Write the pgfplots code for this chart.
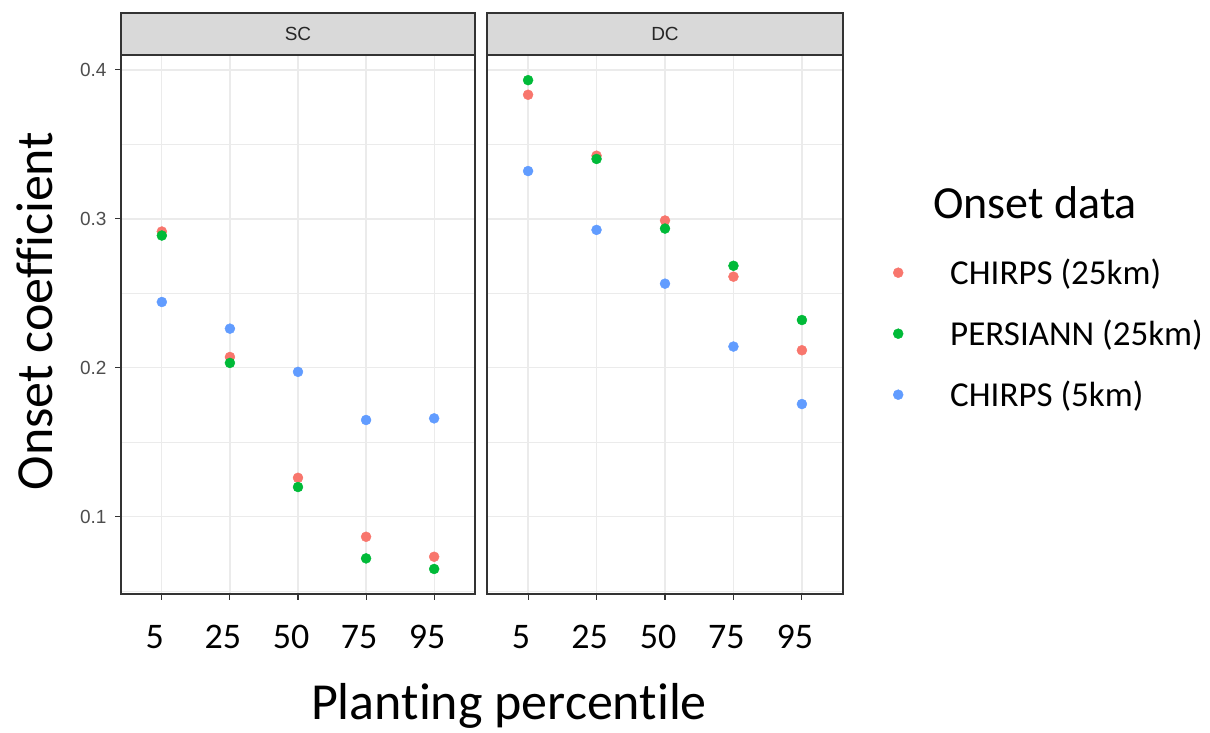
\documentclass[border=0pt]{standalone}
\usepackage{fontspec}
\setmainfont{Carlito}[Ligatures=NoCommon]
\newfontfamily\arial{Liberation Sans}
\usepackage{pgfplots}
\usepackage{pgfplotstable}
\pgfplotsset{compat=1.18}
\definecolor{cR}{HTML}{F8766D}
\definecolor{cG}{HTML}{00BA38}
\definecolor{cB}{HTML}{619CFF}
\definecolor{gridc}{HTML}{EBEBEB}
\definecolor{frame}{HTML}{333333}
\definecolor{stripc}{HTML}{D9D9D9}
\definecolor{ylab}{HTML}{4D4D4D}

\pgfplotstableread{
x r g b
1 0.2915 0.2888 0.2442
2 0.2073 0.2033 0.2263
3 0.1262 0.1200 0.1973
4 0.0866 0.0721 0.1650
5 0.0732 0.0650 0.1661
}\sctab
\pgfplotstableread{
x r g b
1 0.3833 0.3931 0.3321
2 0.3424 0.3402 0.2926
3 0.2989 0.2935 0.2565
4 0.2612 0.2685 0.2143
5 0.2118 0.2321 0.1757
}\dctab

\pgfplotsset{
  panel/.style={
    scale only axis, height=539pt,
    ymin=0.0482, ymax=0.41, xmin=0.4, xmax=5.6,
    xtick={1,2,3,4,5}, xticklabels={5,25,50,75,95},
    ytick={0.1,0.2,0.3,0.4}, minor ytick={0.05,0.15,0.25,0.35},
    grid=both,
    major grid style={color=gridc, line width=1.3pt},
    minor grid style={color=gridc, line width=0.7pt},
    axis line style={color=frame, line width=1.2pt},
    tick align=outside, major tick length=6pt, minor tick length=0pt,
    tick style={color=frame, line width=1.1pt},
    xtick pos=bottom, ytick pos=left,
    xticklabel style={font=\fontsize{36}{36}\selectfont, text=black, xshift=-7pt, yshift=-22pt},
    clip=false,
  },
  pt/.style={only marks, mark=*, mark size=5pt, mark options={draw=none, fill=#1}, color=#1},
}

\begin{document}
\begin{tikzpicture}
\useasboundingbox (0,0) rectangle (1210pt,733pt);

\begin{axis}[panel, width=354pt, at={(121pt,139pt)}, anchor=south west,
  yticklabels={0.1,0.2,0.3,0.4},
  yticklabel style={font=\arial\fontsize{19}{19}\selectfont, text=ylab, xshift=-5pt}]
  \addplot[pt=cR] table[x=x,y=r]{\sctab};
  \addplot[pt=cG] table[x=x,y=g]{\sctab};
  \addplot[pt=cB] table[x=x,y=b]{\sctab};
  \draw[fill=stripc, draw=frame, line width=1.2pt] (rel axis cs:0,1) rectangle ([yshift=42pt]rel axis cs:1,1);
  \node[font=\arial\fontsize{19}{19}\selectfont, text=black!85] at ([yshift=21pt]rel axis cs:0.5,1) {SC};
\end{axis}

\begin{axis}[panel, width=356pt, at={(487pt,139pt)}, anchor=south west,
  yticklabels={}, ytick style={draw=none},
  legend style={at={(1.1405,0.6215)}, anchor=north west, draw=none, fill=none, inner sep=0pt,
    font=\fontsize{35}{35}\selectfont, row sep=28pt,
    nodes={inner sep=0pt, text height=25pt, text depth=8pt},
    /tikz/every odd column/.append style={column sep=47pt}},
  legend cell align=left,
  legend image code/.code={\draw[#1] plot coordinates {(5pt,3pt)};}]
  \addplot[pt=cR] table[x=x,y=r]{\dctab};
  \addlegendentry{CHIRPS (25km)}
  \addplot[pt=cG] table[x=x,y=g]{\dctab};
  \addlegendentry{PERSIANN (25km)}
  \addplot[pt=cB] table[x=x,y=b]{\dctab};
  \addlegendentry{CHIRPS (5km)}
  \draw[fill=stripc, draw=frame, line width=1.2pt] (rel axis cs:0,1) rectangle ([yshift=42pt]rel axis cs:1,1);
  \node[font=\arial\fontsize{19}{19}\selectfont, text=black!85] at ([yshift=21pt]rel axis cs:0.5,1) {DC};
\end{axis}

\node[rotate=90, anchor=base, font=\fontsize{52}{52}\selectfont] at (52pt,422pt) {Onset coefficient};
\node[anchor=base, font=\fontsize{52}{52}\selectfont] at (509pt,13pt) {Planting percentile};
\node[anchor=base west, font=\fontsize{46}{46}\selectfont, inner sep=0pt] at (933pt,514pt) {Onset data};
\end{tikzpicture}
\end{document}
